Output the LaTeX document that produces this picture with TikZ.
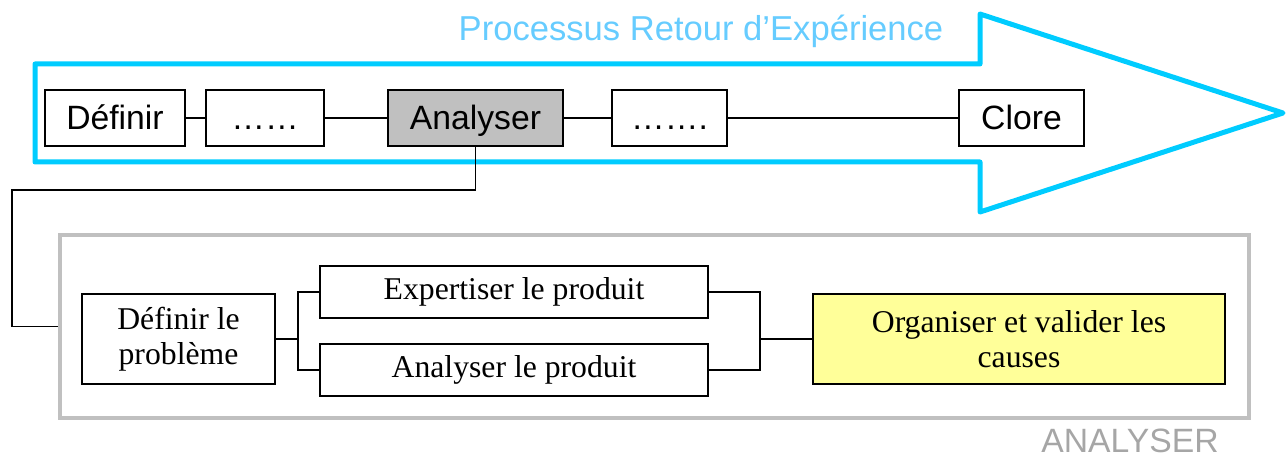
\documentclass[tikz,border=0pt]{standalone}
\usepackage{fontspec}
\setmainfont{Liberation Serif}
\setsansfont{Liberation Sans}
\definecolor{arrowblue}{RGB}{0,204,255}
\definecolor{titleblue}{RGB}{102,204,255}
\definecolor{framegray}{RGB}{192,192,192}
\definecolor{labelgray}{RGB}{166,166,166}
\definecolor{boxgray}{RGB}{192,192,192}
\definecolor{paleyellow}{RGB}{255,255,153}
\begin{document}
\begin{tikzpicture}[x=1pt,y=-1pt,
  box/.style={draw=black,line width=1.8pt,inner sep=0pt,minimum height=56pt,
    text height=24pt,text depth=0pt,
    font=\sffamily\fontsize{33.7}{40}\selectfont},
  sbox/.style={draw=black,line width=1.8pt,inner sep=0pt,align=center,
    font=\fontsize{31.7}{35}\selectfont},
  link/.style={line width=1.8pt},
]
\useasboundingbox (0,0) rectangle (1287,457);
% big process arrow
\draw[arrowblue,line width=5pt,line join=round]
  (35,64) -- (980,64) -- (980,14) -- (1283,113) -- (980,212) -- (980,162) -- (35,162) -- cycle;
\node[text=titleblue,font=\sffamily\fontsize{34.6}{40}\selectfont] (title) at (701,31) {Processus Retour d’Expérience};
% top row
\node[box,minimum width=140pt] (def) at (115,118) {Définir};
\node[box,minimum width=118pt] (dots1) at (265,118) {……};
\node[box,minimum width=175pt,fill=boxgray] (ana) at (475.5,118) {Analyser};
\node[box,minimum width=115pt] (dots2) at (669.5,118) {…….};
\node[box,minimum width=125pt] (clore) at (1021.5,118) {Clore};
\draw[link] (def) -- (dots1);
\draw[link] (dots1) -- (ana);
\draw[link] (ana) -- (dots2);
\draw[link] (dots2) -- (clore);
% frame
\node[draw=framegray,line width=3.5pt,minimum width=1189pt,minimum height=183pt,inner sep=0pt] (frame) at (654.5,326.5) {};
\node[text=labelgray,inner sep=0pt,text height=24pt,text depth=0pt,font=\sffamily\fontsize{33.7}{40}\selectfont] (framelabel) at (1130,440) {ANALYSER};
\coordinate (c1) at (12,190);
\draw[link] (ana.south) |- (c1) |- (frame.west);
% inner boxes
\node[sbox,minimum width=193pt,minimum height=90pt] (pb) at (178.5,339) {Définir le\\problème};
\node[sbox,minimum width=388pt,minimum height=52pt] (exp) at (514,292) {Expertiser le produit};
\node[sbox,minimum width=388pt,minimum height=52pt] (anp) at (514,370) {Analyser le produit};
\node[sbox,minimum width=412pt,minimum height=90pt,fill=paleyellow] (org) at (1019,339) {Organiser et valider les\\causes};
\coordinate (j1) at (298,339);
\coordinate (j2) at (760,339);
\draw[link] (pb.east) -- (j1);
\draw[link] (j1) |- (exp.west);
\draw[link] (j1) |- (anp.west);
\draw[link] (exp.east) -| (j2);
\draw[link] (anp.east) -| (j2);
\draw[link] (j2) -- (org.west);
\end{tikzpicture}
\end{document}
